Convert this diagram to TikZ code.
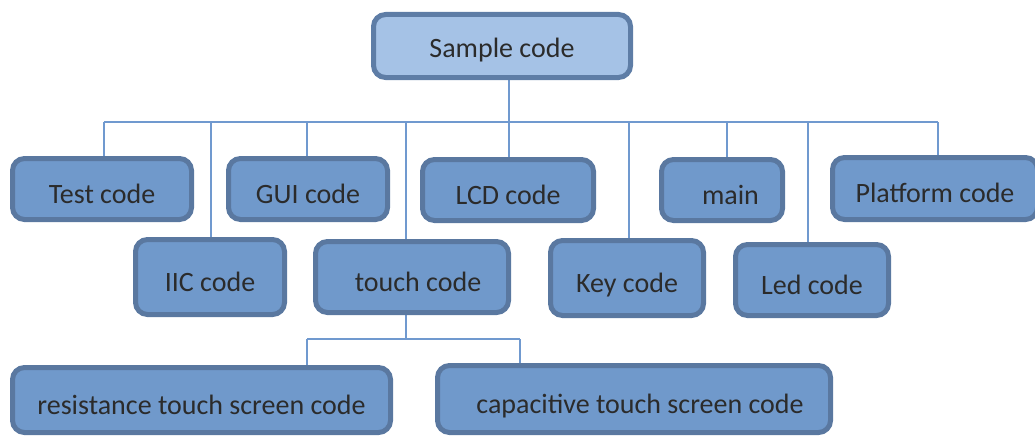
\documentclass[tikz,border=0pt]{standalone}
\usepackage{fontspec}
\setmainfont{Carlito}
\usetikzlibrary{backgrounds}
\definecolor{topfill}{HTML}{A5C2E6}
\definecolor{topborder}{HTML}{5E7DA6}
\definecolor{boxfill}{HTML}{7099CB}
\definecolor{boxborder}{HTML}{5A78A0}
\definecolor{txt}{HTML}{2B2B2B}
\definecolor{wire}{HTML}{7099CF}
\tikzset{
  cbox/.style={draw=boxborder, line width=5pt, fill=boxfill, rounded corners=12pt,
    text=txt, font=\fontsize{28}{33}\selectfont, inner sep=0pt,
    text height=30pt, text depth=2pt},
  topbox/.style={cbox, draw=topborder, fill=topfill, text height=24pt},
  wireline/.style={draw=wire, line width=1.6pt}
}
\begin{document}
\begin{tikzpicture}[x=1pt,y=-1pt]
\useasboundingbox (0,0) rectangle (1035,436);
\clip (0,0) rectangle (1035,436);
\node[topbox, minimum width=257pt, minimum height=63pt] (sample) at (502,46) {Sample code};
\node[cbox, minimum width=179pt, minimum height=61pt] (test) at (102,189) {Test code};
\node[cbox, minimum width=159pt, minimum height=61pt] (gui) at (308,189) {GUI code};
\node[cbox, minimum width=171pt, minimum height=61pt] (lcd) at (508,190) {LCD code};
\node[cbox, minimum width=121pt, minimum height=61pt] (main) at (722,190) {\hspace{17pt}main};
\node[cbox, minimum width=205pt, minimum height=62pt] (platform) at (935,188.5) {Platform code};
\node[cbox, minimum width=149pt, minimum height=75pt] (iic) at (210,277) {IIC code};
\node[cbox, minimum width=193pt, minimum height=71pt] (touch) at (412,277) {\hspace{12pt}touch code};
\node[cbox, minimum width=153pt, minimum height=75pt] (key) at (627,278) {Key code};
\node[cbox, minimum width=153pt, minimum height=71pt] (led) at (812,280) {Led code};
\node[cbox, minimum width=378pt, minimum height=65pt] (resist) at (201.5,400) {resistance touch screen code};
\node[cbox, minimum width=393pt, minimum height=67pt] (capac) at (634,399) {\hspace{12pt}capacitive touch screen code};
\coordinate (bus) at (0,122);
\coordinate (sub) at (0,339);
\begin{scope}[on background layer]
\draw[wireline] (sample.south -| 509,0) -- (509,122);
\draw[wireline] (104,122) -- (938,122);
\draw[wireline] (bus -| 104,0) -- (test.north -| 104,0);
\draw[wireline] (bus -| 211,0) -- (iic.north -| 211,0);
\draw[wireline] (bus -| 307,0) -- (gui.north -| 307,0);
\draw[wireline] (bus -| 406,0) -- (touch.north -| 406,0);
\draw[wireline] (bus -| 509,0) -- (lcd.north -| 509,0);
\draw[wireline] (bus -| 629,0) -- (key.north -| 629,0);
\draw[wireline] (bus -| 727,0) -- (main.north -| 727,0);
\draw[wireline] (bus -| 808,0) -- (led.north -| 808,0);
\draw[wireline] (bus -| 938,0) -- (platform.north -| 938,0);
\draw[wireline] (touch.south -| 406,0) -- (sub -| 406,0);
\draw[wireline] (sub -| 307,0) -- (sub -| 520,0);
\draw[wireline] (sub -| 307,0) -- (resist.north -| 307,0);
\draw[wireline] (sub -| 520,0) -- (capac.north -| 520,0);
\end{scope}
\end{tikzpicture}
\end{document}
